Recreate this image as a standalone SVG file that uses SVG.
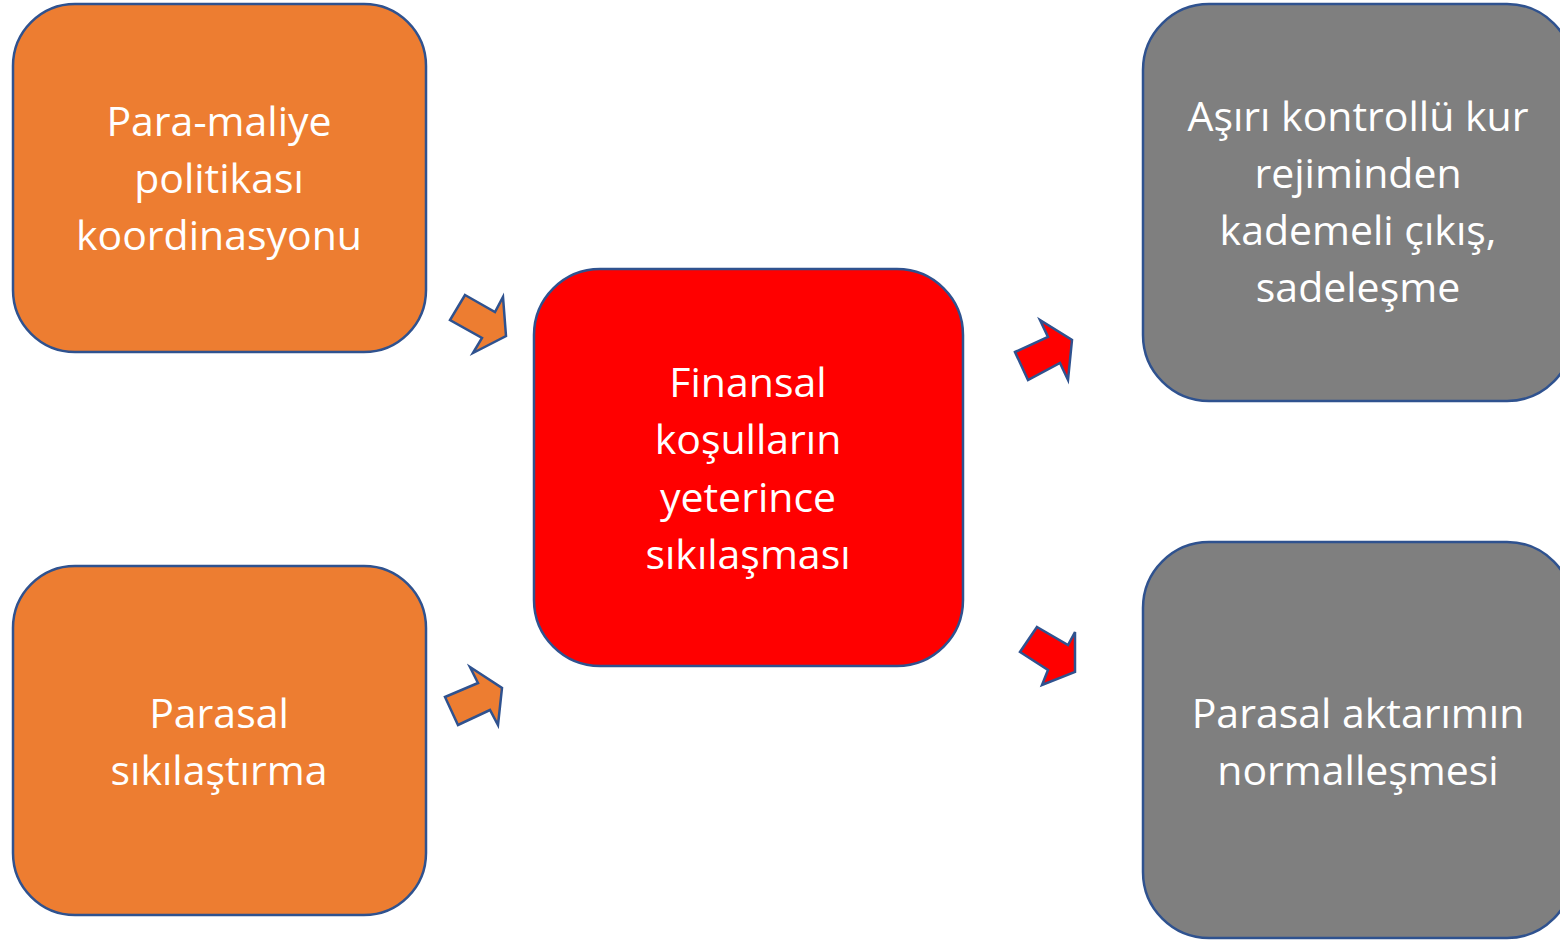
<svg xmlns="http://www.w3.org/2000/svg" width="1560" height="940" viewBox="0 0 1560 940">
<style>
.box{stroke:#2F528F;stroke-width:2.5}
.or{fill:#ED7D31}
.rd{fill:#FF0000}
.gy{fill:#7F7F7F}
.arr{stroke:#2F528F;stroke-width:2.5;stroke-linejoin:miter}
text{font-family:"Open Sans","Liberation Sans",sans-serif;font-size:41px;fill:#FFFFFF;text-anchor:middle}
</style>
<rect width="1560" height="940" fill="#FFFFFF"/>
<g id="node-para-maliye">
<rect class="box or" x="13" y="4" width="413" height="348" rx="62"/>
<text x="219" y="136">Para-maliye</text>
<text x="219" y="193">politikası</text>
<text x="219" y="250">koordinasyonu</text>
</g>
<g id="node-parasal-sikilastirma">
<rect class="box or" x="13" y="566" width="413" height="349" rx="62"/>
<text x="219" y="728">Parasal</text>
<text x="219" y="785">sıkılaştırma</text>
</g>
<g id="node-finansal">
<rect class="box rd" x="534" y="269" width="429" height="397" rx="66"/>
<text x="748" y="397">Finansal</text>
<text x="748" y="454">koşulların</text>
<text x="748" y="512">yeterince</text>
<text x="748" y="569">sıkılaşması</text>
</g>
<g id="node-kur-rejimi">
<rect class="box gy" x="1143" y="4" width="430" height="397" rx="66"/>
<text x="1358" y="131">Aşırı kontrollü kur</text>
<text x="1358" y="188">rejiminden</text>
<text x="1358" y="245">kademeli çıkış,</text>
<text x="1358" y="302">sadeleşme</text>
</g>
<g id="node-parasal-aktarim">
<rect class="box gy" x="1143" y="542" width="430" height="396" rx="66"/>
<text x="1358" y="728">Parasal aktarımın</text>
<text x="1358" y="785">normalleşmesi</text>
</g>
<g id="connectors">
<polygon class="arr or" points="465,295 495,312 503,297 506,336 473,353 482,338 450,320"/>
<polygon class="arr or" points="445,697 478,683 470,667 502,688 498,725 490,710 458,725"/>
<polygon class="arr rd" points="1015,352 1048,337 1040,320 1072,340 1068,380 1060,363 1028,380"/>
<polygon class="arr rd" points="1037,627 1068,645 1075,632 1075,672 1042,685 1048,670 1020,652"/>
</g>
</svg>
